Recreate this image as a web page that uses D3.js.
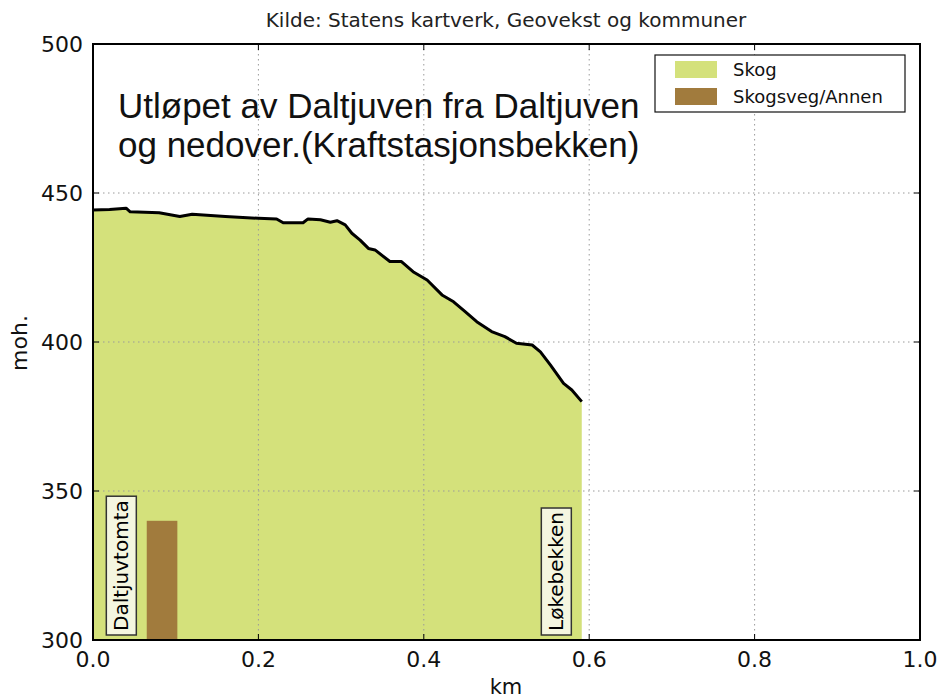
<!DOCTYPE html>
<html><head><meta charset="utf-8">
<script src="https://cdn.jsdelivr.net/npm/d3@7"></script>
<style>body{margin:0;background:#fff;} text{font-family:"DejaVu Sans",sans-serif;}</style>
</head><body>
<svg id="c" width="941" height="698"></svg>
<script>
// ---- data ----
const distKm = [0, 0.02, 0.04, 0.045, 0.08, 0.105, 0.12, 0.16, 0.2, 0.222, 0.23, 0.254, 0.26, 0.275, 0.287, 0.295, 0.305, 0.313, 0.323, 0.333, 0.341, 0.359, 0.373, 0.387, 0.404, 0.422, 0.436, 0.450, 0.464, 0.482, 0.498, 0.512, 0.531, 0.541, 0.553, 0.569, 0.579, 0.591];
const elevation = [444.3, 444.5, 444.9, 443.7, 443.4, 442.1, 442.9, 442.1, 441.5, 441.3, 440, 440, 441.3, 441, 440.2, 440.7, 439.3, 436.5, 434.2, 431.4, 430.9, 427, 427, 423.6, 420.8, 415.8, 413.5, 410.2, 406.8, 403.5, 401.8, 399.6, 399, 396.7, 392.3, 386.1, 383.9, 380];
const roadStart = [0.065];
const roadEnd = [0.102];
const roadTop = [340];
const placeNames = ["Daltjuvtomta", "Løkebekken"];
const placeKm = [0.034, 0.560];
const legendLabels = ["Skog", "Skogsveg/Annen"];
const xTicks = [0.0, 0.2, 0.4, 0.6, 0.8, 1.0];
const yTicks = [300, 350, 400, 450, 500];
const titleLines = ["Utløpet av Daltjuven fra Daltjuven", "og nedover.(Kraftstasjonsbekken)"];
const sourceText = "Kilde: Statens kartverk, Geovekst og kommuner";

// ---- layout ----
const L = 93, R = 920, T = 44, B = 640;
const green = "#d4e17b", brown = "#a17b3d";
const svg = d3.select("#c");
const x = d3.scaleLinear().domain([0, 1]).range([L, R]);
const y = d3.scaleLinear().domain([300, 500]).range([B, T]);
const pts = distKm.map((d, i) => [d, elevation[i]]);

// area
svg.append("path").datum(pts)
  .attr("d", d3.area().x(d => x(d[0])).y0(y(300)).y1(d => y(d[1])))
  .attr("fill", green);

// road bar
svg.selectAll(".road").data(roadStart).join("rect")
  .attr("x", (d, i) => x(d)).attr("width", (d, i) => x(roadEnd[i]) - x(d))
  .attr("y", (d, i) => y(roadTop[i])).attr("height", (d, i) => y(300) - y(roadTop[i]))
  .attr("fill", brown);

// grid
const g = svg.append("g");
g.selectAll(".gx").data(xTicks.slice(1, -1)).join("line")
  .attr("x1", d => x(d)).attr("x2", d => x(d)).attr("y1", T).attr("y2", B)
  .attr("stroke", "#9a9a9a").attr("stroke-width", 1).attr("stroke-dasharray", "1.5,3.5");
g.selectAll(".gy").data(yTicks.slice(1, -1)).join("line")
  .attr("y1", d => y(d)).attr("y2", d => y(d)).attr("x1", L).attr("x2", R)
  .attr("stroke", "#9a9a9a").attr("stroke-width", 1).attr("stroke-dasharray", "1.5,3.5");

// profile line
svg.append("path").datum(pts)
  .attr("d", d3.line().x(d => x(d[0])).y(d => y(d[1])))
  .attr("fill", "none").attr("stroke", "#000").attr("stroke-width", 3).attr("stroke-linejoin", "round");

// place labels
placeNames.forEach((name, i) => {
  const gg = svg.append("g").attr("transform", `translate(${x(placeKm[i])},${B - 9}) rotate(-90)`);
  const t = gg.append("text").attr("x", 0).attr("y", 0).attr("dy", "0.36em")
    .attr("font-size", 20).attr("fill", "#000").text(name);
  const bb = t.node().getBBox();
  gg.insert("rect", "text").attr("x", bb.x - 4).attr("y", bb.y - 3)
    .attr("width", bb.width + 8).attr("height", bb.height + 6)
    .attr("fill", "#f4f6e0").attr("stroke", "#333").attr("stroke-width", 1.5);
});

// axes frame
svg.append("rect").attr("x", L).attr("y", T).attr("width", R - L).attr("height", B - T)
  .attr("fill", "none").attr("stroke", "#000").attr("stroke-width", 2);

// ticks (inward, both sides)
const tk = svg.append("g").attr("stroke", "#000").attr("stroke-width", 1);
xTicks.forEach(v => {
  tk.append("line").attr("x1", x(v)).attr("x2", x(v)).attr("y1", B).attr("y2", B - 6);
  tk.append("line").attr("x1", x(v)).attr("x2", x(v)).attr("y1", T).attr("y2", T + 6);
});
yTicks.forEach(v => {
  tk.append("line").attr("y1", y(v)).attr("y2", y(v)).attr("x1", L).attr("x2", L + 6);
  tk.append("line").attr("y1", y(v)).attr("y2", y(v)).attr("x1", R).attr("x2", R - 6);
});

// tick labels
svg.selectAll(".xl").data(xTicks).join("text")
  .attr("x", d => x(d)).attr("y", 667).attr("text-anchor", "middle")
  .attr("font-size", 22).attr("fill", "#111").text(d => d3.format(".1f")(d));
svg.selectAll(".yl").data(yTicks).join("text")
  .attr("x", 83).attr("y", d => y(d)).attr("dy", "0.36em").attr("text-anchor", "end")
  .attr("font-size", 22).attr("fill", "#111").text(d => d);

// axis titles
svg.append("text").attr("x", 506).attr("y", 694).attr("text-anchor", "middle")
  .attr("font-size", 21).attr("fill", "#111").text("km");
svg.append("text").attr("transform", `translate(27,343) rotate(-90)`).attr("text-anchor", "middle")
  .attr("font-size", 22).attr("fill", "#111").text("moh.");
svg.append("text").attr("x", 506).attr("y", 27).attr("text-anchor", "middle")
  .attr("font-size", 20).attr("fill", "#222").text(sourceText);

// big title
titleLines.forEach((t, i) => {
  svg.append("text").attr("x", 118).attr("y", 118 + i * 39)
    .style("font-family", "'Liberation Sans', Arial, sans-serif")
    .attr("font-size", 35).attr("fill", "#111").text(t);
});

// legend
const lg = svg.append("g");
lg.append("rect").attr("x", 655).attr("y", 55).attr("width", 250).attr("height", 57)
  .attr("fill", "#fff").attr("stroke", "#111").attr("stroke-width", 1.2);
[green, brown].forEach((c, i) => {
  lg.append("rect").attr("x", 675).attr("y", 61 + i * 27).attr("width", 42).attr("height", 17).attr("fill", c);
  lg.append("text").attr("x", 733).attr("y", 70 + i * 27).attr("dy", "0.36em")
    .attr("font-size", 18).attr("fill", "#111").text(legendLabels[i]);
});
</script>
</body></html>
